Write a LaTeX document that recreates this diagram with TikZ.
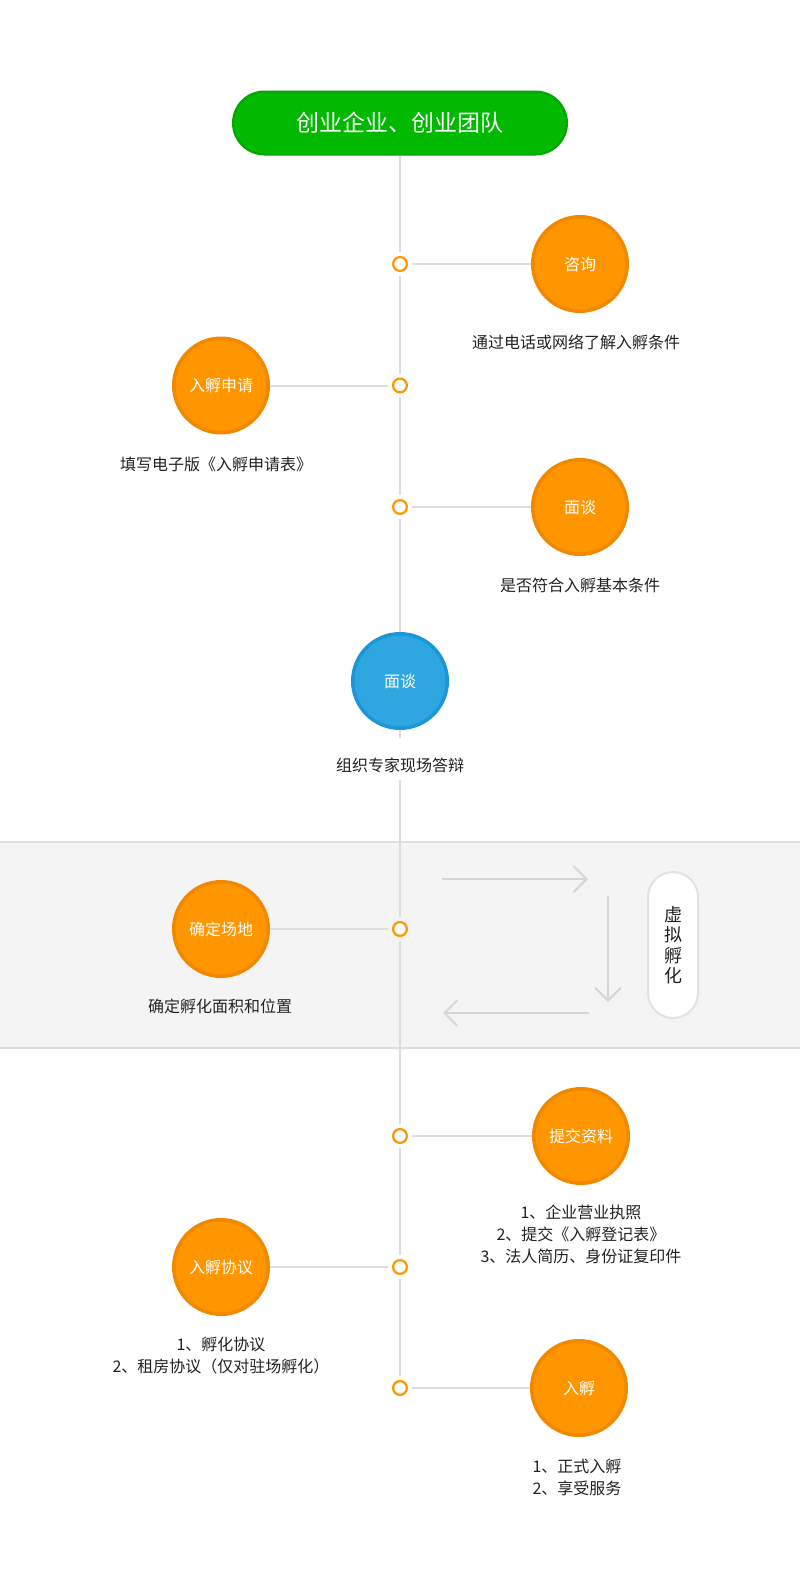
\documentclass[tikz,border=0pt]{standalone}
\usepackage{fontspec}
\setmainfont{Noto Sans CJK SC}
\usetikzlibrary{arrows.meta}
\definecolor{orangefill}{RGB}{255,150,0}
\definecolor{orangeedge}{RGB}{240,136,0}
\definecolor{bluefill}{RGB}{46,167,224}
\definecolor{blueedge}{RGB}{28,150,214}
\definecolor{greenfill}{RGB}{0,185,0}
\definecolor{greenedge}{RGB}{4,164,4}
\definecolor{linegray}{RGB}{221,221,221}
\definecolor{bandgray}{RGB}{244,244,244}
\definecolor{bandedge}{RGB}{222,222,222}
\definecolor{arrowgray}{RGB}{214,214,214}
\definecolor{pilledge}{RGB}{226,226,226}
\definecolor{textdark}{RGB}{34,34,34}
\begin{document}
\begin{tikzpicture}[x=1pt,y=-1pt,
  stepcircle/.style={circle, fill=orangefill, draw=orangeedge, line width=3.5pt,
    minimum size=94.5pt, inner sep=0pt, text=white, font=\fontsize{16}{16}\selectfont},
  bluecircle/.style={stepcircle, fill=bluefill, draw=blueedge},
  dot/.style={circle, draw=orangefill, fill=white, line width=2.2pt,
    minimum size=13.8pt, inner sep=0pt, outer sep=5pt},
  desc/.style={anchor=north, inner sep=0pt, align=center, text=textdark,
    font=\fontsize{16}{22}\selectfont},
  mainline/.style={draw=linegray, line width=2pt},
  titlepill/.style={rectangle, rounded corners=31.5pt, fill=greenfill, draw=greenedge,
    line width=2pt, minimum width=334pt, minimum height=63pt, text=white,
    font=\fontsize{23}{23}\selectfont},
  vpill/.style={rectangle, rounded corners=25pt, fill=white, draw=pilledge, line width=2pt,
    minimum width=50pt, minimum height=146pt, align=center, text=textdark,
    font=\fontsize{18}{20.5}\selectfont},
  flowarrow/.style={draw=arrowgray, line width=2pt, -{Straight Barb[length=13pt,width=26pt]}}
]
\useasboundingbox (0,0) rectangle (800,1590);
\fill[white] (0,0) rectangle (800,1590);
% band
\fill[bandgray] (0,842) rectangle (800,1048);
\draw[bandedge, line width=2pt] (0,842) -- (800,842);
\draw[bandedge, line width=2pt] (0,1048) -- (800,1048);

% main nodes
\node[titlepill] (title) at (400,123) {创业企业、创业团队};
\node[dot] (d1) at (400,264) {};
\node[dot] (d2) at (400,385.5) {};
\node[dot] (d3) at (400,507) {};
\node[bluecircle] (b) at (400,681) {面谈};
\node[anchor=base, inner sep=0pt, text height=33pt, text depth=9pt, text=textdark,
  font=\fontsize{16}{22}\selectfont] (bt) at (400,771) {组织专家现场答辩};
\node[dot] (d4) at (400,929) {};
\node[dot] (d5) at (400,1136) {};
\node[dot] (d6) at (400,1267) {};
\node[dot] (d7) at (400,1388) {};

\node[stepcircle] (c1) at (580,264) {咨询};
\node[stepcircle] (c2) at (221,385.5) {入孵申请};
\node[stepcircle] (c3) at (580,507) {面谈};
\node[stepcircle] (c4) at (221,929) {确定场地};
\node[stepcircle] (c5) at (581,1136) {提交资料};
\node[stepcircle] (c6) at (221,1267) {入孵协议};
\node[stepcircle] (c7) at (579,1388) {入孵};

\node[desc] (t1) at (576,335) {通过电话或网络了解入孵条件};
\node[desc] (t2) at (216,456.5) {填写电子版《入孵申请表》};
\node[desc] (t3) at (580,578) {是否符合入孵基本条件};
\node[desc] (t4) at (220,999) {确定孵化面积和位置};
\node[desc] (t5) at (581,1205) {1、企业营业执照\\2、提交《入孵登记表》\\3、法人简历、身份证复印件};
\node[desc] (t6) at (221,1337) {1、孵化协议\\2、租房协议（仅对驻场孵化）};
\node[desc] (t7) at (577,1459) {1、正式入孵\\2、享受服务};

% connectors
\draw[mainline] (title) -- (d1) -- (d2) -- (d3) -- (b) -- (bt) -- (d4) -- (d5) -- (d6) -- (d7);
\draw[mainline] (d1) -- (c1);
\draw[mainline] (c2) -- (d2);
\draw[mainline] (d3) -- (c3);
\draw[mainline] (c4) -- (d4);
\draw[mainline] (d5) -- (c5);
\draw[mainline] (c6) -- (d6);
\draw[mainline] (d7) -- (c7);

% virtual incubation loop
\node[vpill] (v) at (673,945) {虚\\拟\\孵\\化};
\coordinate (a1s) at (442,879);
\coordinate (a1e) at (588,879);
\coordinate (a2s) at (608,896);
\coordinate (a2e) at (608,1002);
\coordinate (a3s) at (589,1013);
\coordinate (a3e) at (443,1013);
\draw[flowarrow] (a1s) -- (a1e);
\draw[flowarrow] (a2s) -- (a2e);
\draw[flowarrow] (a3s) -- (a3e);
\end{tikzpicture}
\end{document}
